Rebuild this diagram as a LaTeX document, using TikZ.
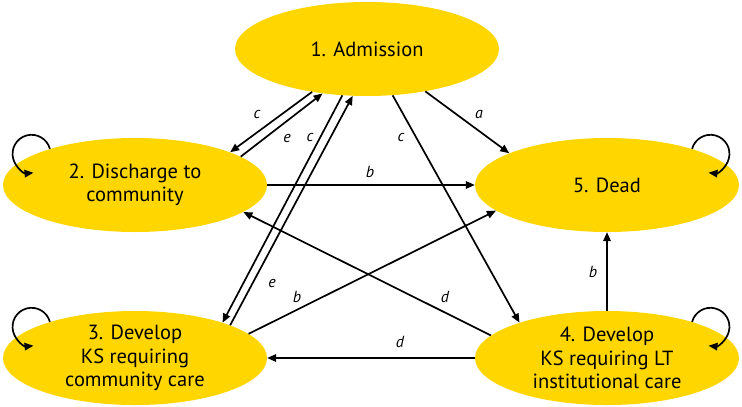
\documentclass[tikz,border=0pt]{standalone}
\usepackage{fontspec}
\setmainfont{PT Sans}
\usetikzlibrary{shapes.geometric, arrows.meta}
\definecolor{ksyellow}{RGB}{255, 214, 0}

\begin{document}
\begin{tikzpicture}[x=1pt, y=-1pt,
    state/.style={ellipse, fill=ksyellow, minimum width=264pt, minimum height=94pt,
        inner sep=0pt, align=center, font=\fontsize{20.5}{23.5}\selectfont},
    link/.style={line width=1.7pt, -{Triangle[length=9pt, width=7.5pt]}},
    lbl/.style={font=\fontsize{16}{18}\selectfont\itshape}]
\useasboundingbox (0,0) rectangle (742,407);

% The five states
\node[state] (adm) at (367,49) {1. Admission};
\node[state] (dis) at (135,185) {2. Discharge to\\community};
\node[state] (com) at (135,358) {3. Develop\\KS requiring\\community care};
\node[state] (ins) at (607,358) {4. Develop\\KS requiring LT\\institutional care};
\node[state] (dead) at (607,185) {5. Dead};

% Transitions out of admission
\draw[link] (adm.218) -- (dis.19);
\draw[link] (dis.15) -- (adm.225);
\draw[link] (adm.242) -- (com.22);
\draw[link] (com.19) -- (adm.253);
\draw[link] (adm.299) -- (ins.158);
\draw[link] (adm.324) -- (dead.162);

% Transitions between the other states
\draw[link] (dis.east) -- (dead.west);
\draw[link] (ins.169) -- (dis.346);
\draw[link] (com.12) -- (dead.193);
\draw[link] (ins.west) -- (com.east);
\draw[link] (ins.north) -- (dead.south);

% Staying in the same state
\draw[link] (dis.157) arc[start angle=15, end angle=276, radius=19pt];
\draw[link] (com.157) arc[start angle=15, end angle=276, radius=19pt];
\draw[link] (ins.23) arc[start angle=165, end angle=-96, radius=19pt];
\draw[link] (dead.23) arc[start angle=165, end angle=-96, radius=19pt];

% Transition labels
\node[lbl] (lc1) at (257,114) {c};
\node[lbl] (le1) at (287,138) {e};
\node[lbl] (lc2) at (310,137) {c};
\node[lbl] (le2) at (272,283) {e};
\node[lbl] (lc3) at (401,137) {c};
\node[lbl] (la) at (479,114) {a};
\node[lbl] (lb1) at (370,172) {b};
\node[lbl] (lb2) at (297,297) {b};
\node[lbl] (ld1) at (445,297) {d};
\node[lbl] (ld2) at (400,342) {d};
\node[lbl] (lb3) at (593,272) {b};
\end{tikzpicture}
\end{document}
